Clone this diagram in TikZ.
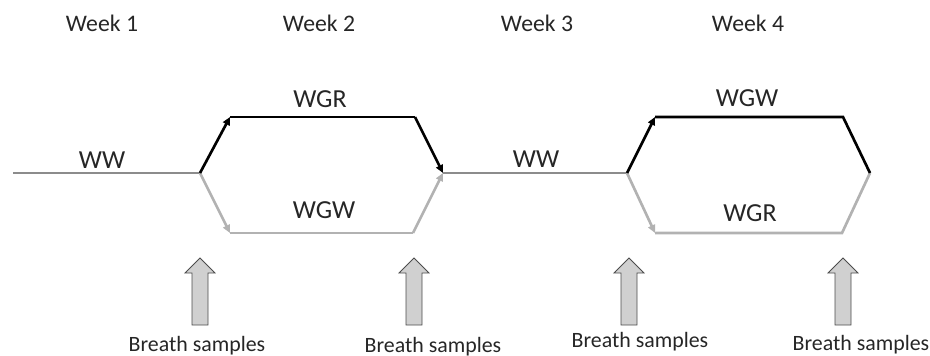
\documentclass[tikz,border=0pt]{standalone}
\usepackage{fontspec}
\setmainfont{Carlito}
\usetikzlibrary{arrows.meta}

\definecolor{maingray}{RGB}{140,140,140}
\definecolor{lowgray}{RGB}{178,178,178}
\definecolor{fillgray}{RGB}{208,208,208}

\tikzset{
    weeklabel/.style={anchor=base, inner sep=0pt, font=\fontsize{17.8}{20}\selectfont, text=black!85},
    dietlabel/.style={anchor=base, inner sep=0pt, font=\fontsize{19.5}{22}\selectfont, text=black!85},
    samplelabel/.style={anchor=base, inner sep=0pt, font=\fontsize{16.4}{19}\selectfont, text=black!85},
    mainline/.style={draw=maingray, line width=2pt},
    upline/.style={draw=black, line width=2pt, line join=miter},
    lowline/.style={draw=lowgray, line width=2pt, line join=miter},
    tipped/.style={-{Triangle[length=6pt,width=5.5pt]}},
    samplearrow/.style={draw=black!70, fill=fillgray, line width=0.6pt, line join=miter},
}

\begin{document}
\begin{tikzpicture}[x=0.75pt, y=-0.75pt]
    \useasboundingbox (0,0) rectangle (930,356);

    % weeks
    \node[weeklabel] (week1) at (102,32) {Week 1};
    \node[weeklabel] (week2) at (319,32) {Week 2};
    \node[weeklabel] (week3) at (537,32) {Week 3};
    \node[weeklabel] (week4) at (748,32) {Week 4};

    % path points
    \coordinate (start) at (13,173);
    \coordinate (split1) at (200,173);
    \coordinate (upA1) at (230,117);
    \coordinate (upB1) at (415,117);
    \coordinate (lowA1) at (230,233);
    \coordinate (lowB1) at (413,233);
    \coordinate (join1) at (443,173);
    \coordinate (split2) at (627,173);
    \coordinate (upA2) at (655,117);
    \coordinate (upB2) at (843,117);
    \coordinate (lowA2) at (655,233);
    \coordinate (lowB2) at (842,233);
    \coordinate (join2) at (870,173);

    % washout
    \draw[mainline] (start) -- (split1);
    \draw[mainline] (join1) -- (split2);

    % first crossover
    \draw[lowline, tipped] (split1) -- (lowA1);
    \draw[lowline] (lowA1) -- (lowB1);
    \draw[lowline, tipped] (lowB1) -- (join1);
    \draw[upline, tipped] (split1) -- (upA1);
    \draw[upline] (upA1) -- (upB1);
    \draw[upline, tipped] (upB1) -- (join1);

    % second crossover
    \draw[lowline, tipped] (split2) -- (lowA2);
    \draw[lowline] (lowA2) -- (lowB2) -- (join2);
    \draw[upline, tipped] (split2) -- (upA2);
    \draw[upline] (upA2) -- (upB2) -- (join2);

    % diets
    \node[dietlabel] (ww1) at (102,168) {WW};
    \node[dietlabel] (wgr1) at (320,108) {WGR};
    \node[dietlabel] (wgw1) at (324,218) {WGW};
    \node[dietlabel] (ww2) at (536,167) {WW};
    \node[dietlabel] (wgw2) at (747,107) {WGW};
    \node[dietlabel] (wgr2) at (750,221) {WGR};

    % samples
    \foreach \n/\x in {1/200, 2/414, 3/629, 4/843} {
        \coordinate (arrow\n) at (\x,325);
        \draw[samplearrow] (arrow\n) ++(-8,0) -- ++(0,-52) -- ++(-7,0) -- ++(15,-15)
            -- ++(15,15) -- ++(-7,0) -- ++(0,52) -- cycle;
    }

    \node[samplelabel] (sample1) at (197,351) {Breath samples};
    \node[samplelabel] (sample2) at (433,352) {Breath samples};
    \node[samplelabel] (sample3) at (640,347) {Breath samples};
    \node[samplelabel] (sample4) at (861,350) {Breath samples};
\end{tikzpicture}
\end{document}
